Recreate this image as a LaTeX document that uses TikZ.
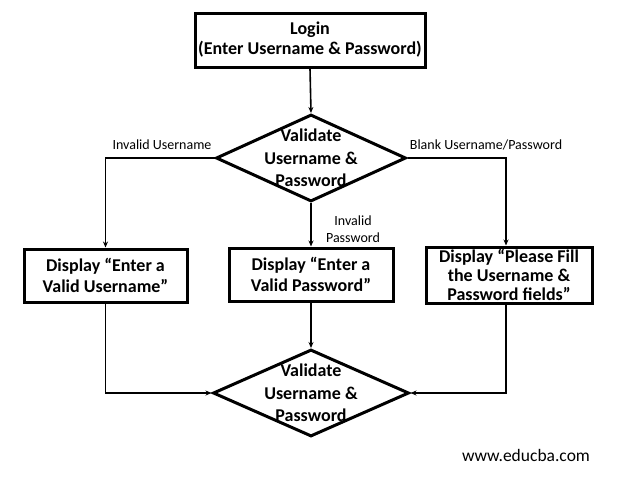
\documentclass[tikz,border=0pt]{standalone}
\usepackage{fontspec}
\setmainfont{Carlito}
\usetikzlibrary{shapes.geometric, arrows.meta, positioning}

\begin{document}
\begin{tikzpicture}[
    x=1pt, y=-1pt,
    stepbox/.style={
        rectangle,
        draw=black,
        line width=3pt,
        minimum width=#1,
        minimum height=53pt,
        align=center,
        inner sep=1pt,
        font=\fontsize{18}{21}\selectfont\bfseries
    },
    decision/.style={
        diamond,
        draw=black,
        line width=3pt,
        minimum width=190pt,
        minimum height=87pt,
        inner sep=0pt
    },
    inner/.style={
        align=center,
        font=\fontsize{18}{22.5}\selectfont\bfseries
    },
    cond/.style={
        align=center,
        font=\fontsize{14}{17}\selectfont
    },
    arrow/.style={
        -{Stealth[length=6pt,width=5pt]},
        line width=1.6pt
    }
]
\useasboundingbox (0,0) rectangle (618,480);

% Define column positions
\def\colA{105}   % left branch
\def\colB{311}   % middle branch
\def\colC{506}   % right branch

% Login at the top
\node[stepbox=230pt, minimum height=54pt, font=\fontsize{18}{20}\selectfont\bfseries] (login) at (310,40) {Login\\(Enter Username \& Password)};

% First check
\node[decision] (check) at (\colB,158) {};
\node[inner] (checktext) at (check.center) {Validate\\Username \&\\Password};

% Messages
\node[stepbox=163pt] (msguser) at (\colA+0.5,275.5) {Display ``Enter a\\Valid Username''};
\node[stepbox=164pt] (msgpass) at (\colB,274.5) {Display ``Enter a\\Valid Password''};
\node[stepbox=166pt, minimum height=56pt, font=\fontsize{18}{19}\selectfont\bfseries] (msgblank) at (509,275) {Display ``Please Fill\\the Username \&\\Password fields''};

% Second check
\node[decision, minimum width=196pt] (recheck) at (\colB,393) {};
\node[inner] (rechecktext) at (recheck.center) {Validate\\Username \&\\Password};

% Branch labels
\node[cond] (lbluser) at (162,145) {Invalid Username};
\node[cond] (lblpass) at (353,229) {Invalid\\Password};
\node[cond] (lblblank) at (486,145) {Blank Username/Password};

% Connecting arrows
\draw[arrow] (login.south) -- (check.north);
\draw[arrow] (check.west) -| (msguser.north);
\draw[arrow] (check.south) -- (msgpass.north);
\draw[arrow] (check.east) -| (msgblank.north -| \colC,0);

\draw[arrow] (msguser.south) |- (recheck.west);
\draw[arrow] (msgpass.south) -- (recheck.north);
\draw[arrow] (msgblank.south -| \colC,0) |- (recheck.east);

% Site mark
\node[font=\fontsize{17.5}{20}\selectfont] (site) at (526,455) {www.educba.com};

\end{tikzpicture}
\end{document}
